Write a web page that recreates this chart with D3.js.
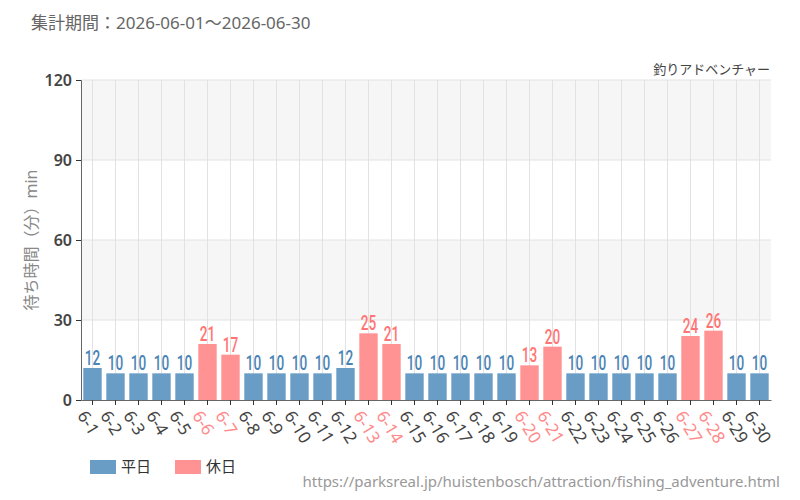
<!DOCTYPE html>
<html>
<head>
<meta charset="utf-8">
<script src="https://cdn.jsdelivr.net/npm/d3@7"></script>
<style>
  body { margin: 0; background: #fff; }
  text { font-family: "Noto Sans", "Noto Sans CJK JP", sans-serif; }
</style>
</head>
<body>
<div id="chart"></div>
<script>
// data
var days = ["6-1","6-2","6-3","6-4","6-5","6-6","6-7","6-8","6-9","6-10",
            "6-11","6-12","6-13","6-14","6-15","6-16","6-17","6-18","6-19","6-20",
            "6-21","6-22","6-23","6-24","6-25","6-26","6-27","6-28","6-29","6-30"];
var waits = [12,10,10,10,10,21,17,10,10,10,10,12,25,21,10,10,10,10,10,13,20,10,10,10,10,10,24,26,10,10];
var holidays = ["6-6","6-7","6-13","6-14","6-20","6-21","6-27","6-28"];
var yTicks = [0,30,60,90,120];
var legendKeys = ["平日","休日"];

function init(){
  var W = 800, H = 500;
  var margin = {top: 80, right: 29, bottom: 100, left: 81};
  var w = W - margin.left - margin.right;
  var h = H - margin.top - margin.bottom;

  var blue = "#6a9dc6", red = "#ff9393";
  var blueText = "#4a84b6", redText = "#ff7575";

  var svg = d3.select("#chart").append("svg")
    .attr("width", W).attr("height", H);

  var g = svg.append("g").attr("transform", "translate(" + margin.left + "," + margin.top + ")");

  var x = d3.scaleBand().domain(days).range([0, w]).paddingInner(0.2).paddingOuter(0.1);
  var y = d3.scaleLinear().domain([0, 120]).range([h, 0]);

  function isHoliday(d){ return holidays.indexOf(d) >= 0; }

  // striped background
  var stripes = d3.pairs(yTicks);
  g.selectAll("rect.stripe")
    .data(stripes)
    .enter().append("rect")
      .attr("class", "stripe")
      .attr("x", 0)
      .attr("width", w)
      .attr("y", function(d){ return y(d[1]); })
      .attr("height", function(d){ return y(d[0]) - y(d[1]); })
      .attr("fill", function(d, i){ return i % 2 ? "#f6f6f6" : "#fff"; });

  // grid
  g.selectAll("line.hgrid")
    .data(yTicks.slice(1))
    .enter().append("line")
      .attr("x1", 0).attr("x2", w)
      .attr("y1", function(d){ return y(d); })
      .attr("y2", function(d){ return y(d); })
      .attr("stroke", "#e2e2e2");

  g.selectAll("line.vgrid")
    .data(days)
    .enter().append("line")
      .attr("x1", function(d){ return x(d) + x.bandwidth() / 2; })
      .attr("x2", function(d){ return x(d) + x.bandwidth() / 2; })
      .attr("y1", 0).attr("y2", h)
      .attr("stroke", "#e2e2e2");

  // bars
  g.selectAll("rect.bar")
    .data(days)
    .enter().append("rect")
      .attr("x", function(d){ return x(d); })
      .attr("width", x.bandwidth())
      .attr("y", function(d, i){ return y(waits[i]); })
      .attr("height", function(d, i){ return h - y(waits[i]); })
      .attr("fill", function(d){ return isHoliday(d) ? red : blue; });

  // value labels (condensed look)
  g.selectAll("text.val")
    .data(days)
    .enter().append("text")
      .attr("text-anchor", "middle")
      .attr("transform", function(d, i){
        var cx = x(d) + x.bandwidth() / 2, cy = y(waits[i]) - 3;
        return "translate(" + cx + "," + cy + ") scale(0.68,1)";
      })
      .style("font-family", "Roboto, sans-serif")
      .style("font-size", "20px")
      .style("font-weight", "500")
      .attr("fill", function(d){ return isHoliday(d) ? redText : blueText; })
      .text(function(d, i){ return waits[i]; });

  // y axis
  var yAxis = g.append("g")
    .call(d3.axisLeft(y).tickValues(yTicks).tickSize(5).tickPadding(4));
  yAxis.select(".domain").attr("stroke", "#666");
  yAxis.selectAll(".tick line").attr("stroke", "#333");
  yAxis.selectAll("text")
    .style("font-family", "'Noto Sans', sans-serif")
    .style("font-size", "16px")
    .style("font-weight", "600")
    .attr("fill", "#444");

  // x axis
  var xAxis = g.append("g")
    .attr("transform", "translate(0," + h + ")")
    .call(d3.axisBottom(x).tickSize(5).tickSizeOuter(0));
  xAxis.select(".domain").attr("stroke", "#666");
  xAxis.selectAll(".tick line").attr("stroke", "#333");
  xAxis.selectAll("text")
    .style("font-family", "'Noto Sans', sans-serif")
    .style("font-size", "17px")
    .attr("text-anchor", "start")
    .attr("dy", "0.35em")
    .attr("transform", "translate(-4,8) rotate(58)")
    .attr("fill", function(d){ return isHoliday(d) ? "#ff8a8a" : "#444"; });

  // y label
  svg.append("text")
    .attr("transform", "translate(37," + (margin.top + h / 2) + ") rotate(-90)")
    .attr("text-anchor", "middle")
    .style("font-size", "16px")
    .attr("fill", "#888")
    .text("待ち時間（分）min");

  // title
  svg.append("text")
    .attr("x", 31).attr("y", 29)
    .style("font-size", "17px")
    .attr("fill", "#666")
    .text("集計期間：2026-06-01～2026-06-30");

  svg.append("text")
    .attr("x", 770).attr("y", 74)
    .attr("text-anchor", "end")
    .style("font-size", "13px")
    .attr("fill", "#444")
    .text("釣りアドベンチャー");

  // legend
  var legendColors = [blue, red];
  svg.selectAll("rect.leg")
    .data(legendKeys)
    .enter().append("rect")
      .attr("x", function(d, i){ return 90 + i * 85; })
      .attr("y", 460)
      .attr("width", 26).attr("height", 14)
      .attr("fill", function(d, i){ return legendColors[i]; });

  svg.selectAll("text.leg")
    .data(legendKeys)
    .enter().append("text")
      .attr("x", function(d, i){ return 121 + i * 85; })
      .attr("y", 467)
      .attr("dy", "0.35em")
      .style("font-size", "15px")
      .attr("fill", "#333")
      .text(function(d){ return d; });

  // source
  svg.append("text")
    .attr("x", 780).attr("y", 487)
    .attr("text-anchor", "end")
    .style("font-size", "15px")
    .attr("fill", "#999")
    .text("https://parksreal.jp/huistenbosch/attraction/fishing_adventure.html");
}
window.onload = init;
</script>
</body>
</html>
